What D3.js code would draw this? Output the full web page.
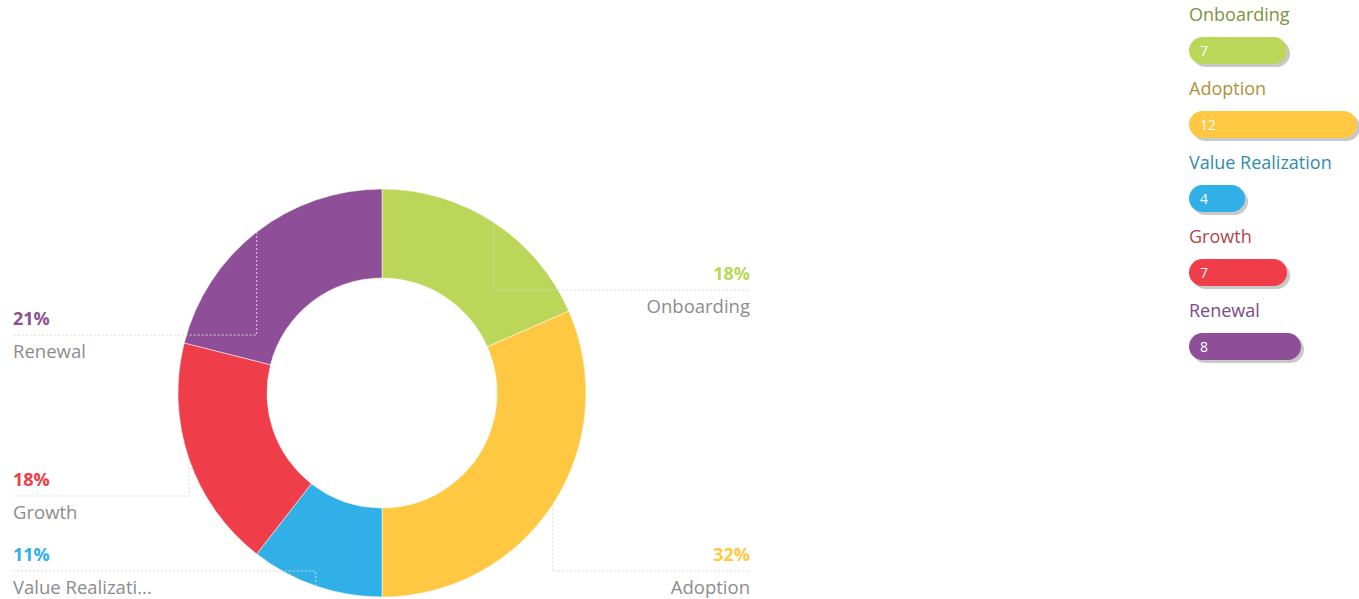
<!DOCTYPE html>
<html>
<head>
<meta charset="utf-8">
<script src="https://cdn.jsdelivr.net/npm/d3@7"></script>
<style>
  body { margin: 0; background: #fff; }
  svg { font-family: "Open Sans", Lato, sans-serif; }
</style>
</head>
<body>
<svg id="chart"></svg>
<script>
const stages = ["Onboarding", "Adoption", "Value Realization", "Growth", "Renewal"];
const counts = [7, 12, 4, 7, 8];
const colors = ["#bcd65a", "#fec843", "#31b0e8", "#ef3e4a", "#8e4f98"];
const legendTextColors = ["#7d9440", "#b0913a", "#2f8cad", "#b1474c", "#7b4a88"];

const width = 1359, height = 599;
const svg = d3.select("#chart").attr("width", width).attr("height", height);

const cx = 382, cy = 393, outer = 204, inner = 115;

const data = stages.map((s, i) => ({ stage: s, value: counts[i], color: colors[i], tcolor: legendTextColors[i] }));
const total = d3.sum(counts);

const pie = d3.pie().value(d => d.value).sort(null);
const arc = d3.arc().innerRadius(inner).outerRadius(outer);
const arcs = pie(data);

const g = svg.append("g").attr("transform", `translate(${cx},${cy})`);

g.selectAll("path")
  .data(arcs)
  .enter()
  .append("path")
  .attr("d", arc)
  .attr("fill", d => d.data.color)
  .attr("stroke", "#fff")
  .attr("stroke-width", 0.5);

// label layout: y of each leader line (label placement of the original)
const labelLineY = { "Onboarding": 290, "Adoption": 571, "Value Realization": 571, "Growth": 496, "Renewal": 335 };
const leftX = 13, rightX = 750;

arcs.forEach(a => {
  const mid = (a.startAngle + a.endAngle) / 2;
  const px = cx + outer * Math.sin(mid);
  const py = cy - outer * Math.cos(mid);
  const ly = labelLineY[a.data.stage];
  const right = mid < Math.PI;
  const ex = right ? rightX : leftX;

  svg.append("path")
    .attr("d", `M${px},${py}L${px},${ly}L${ex},${ly}`)
    .attr("fill", "none")
    .attr("stroke", "#d6d6d6")
    .attr("stroke-width", 1)
    .attr("stroke-dasharray", "2,2");

  const pct = Math.round(a.data.value / total * 100) + "%";
  svg.append("text")
    .attr("x", ex)
    .attr("y", ly - 10)
    .attr("text-anchor", right ? "end" : "start")
    .attr("font-size", 18)
    .attr("font-weight", "bold")
    .attr("fill", a.data.color)
    .text(pct);

  let name = a.data.stage;
  if (name.length > 16) name = name.slice(0, 15) + "...";
  svg.append("text")
    .attr("x", ex)
    .attr("y", ly + 23)
    .attr("text-anchor", right ? "end" : "start")
    .attr("font-size", 18.5)
    .attr("fill", "#8c8c8c")
    .text(name);
});

// legend with value pills
const legendX = 1189;
const pillScale = d3.scaleLinear().domain([0, d3.max(counts)]).range([0, 168]);
const legend = svg.append("g");

const item = legend.selectAll("g")
  .data(data)
  .enter()
  .append("g")
  .attr("transform", (d, i) => `translate(${legendX},${i * 74})`);

item.append("text")
  .attr("x", 0)
  .attr("y", 21)
  .attr("font-size", 18)
  .attr("fill", d => d.tcolor)
  .text(d => d.stage);

item.append("rect")
  .attr("x", 3)
  .attr("y", 40)
  .attr("width", d => pillScale(d.value))
  .attr("height", 27)
  .attr("rx", 13.5)
  .attr("fill", "#c8c8c8");

item.append("rect")
  .attr("x", 0)
  .attr("y", 37)
  .attr("width", d => pillScale(d.value))
  .attr("height", 27)
  .attr("rx", 13.5)
  .attr("fill", d => d.color);

item.append("text")
  .attr("x", 11)
  .attr("y", 56)
  .attr("font-size", 14)
  .attr("fill", "#fff")
  .text(d => d.value);
</script>
</body>
</html>
